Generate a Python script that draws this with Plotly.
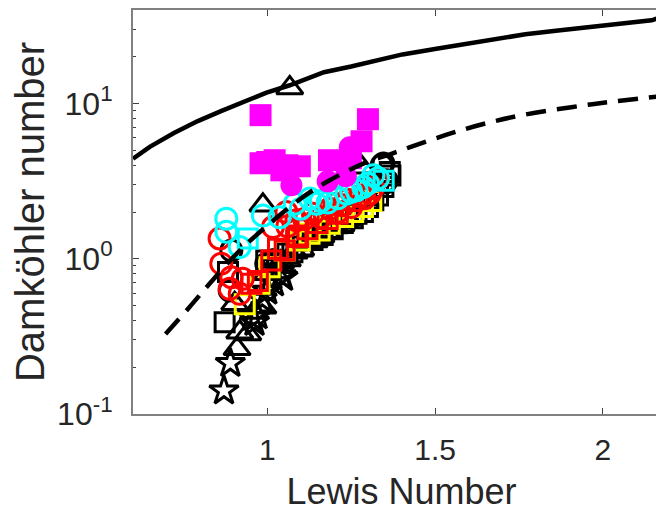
import plotly.graph_objects as go

# ---- model curves ----
solid_x = [0.600, 0.650, 0.722, 0.793, 0.864, 0.925, 0.996, 1.067, 1.169, 1.250, 1.331, 1.403,
           1.504, 1.606, 1.708, 1.769, 1.860, 1.962, 2.043, 2.145, 2.200]
solid_y = [4.41, 5.26, 6.45, 7.70, 8.96, 10.2, 11.7, 13.1, 15.9, 17.3, 19.1, 20.7,
           22.5, 24.4, 26.3, 27.9, 29.4, 31.0, 32.6, 34.3, 37.5]

dashed_x = [0.697, 0.768, 0.828, 0.918, 1.007, 1.107, 1.186, 1.286, 1.372, 1.474, 1.565,
            1.657, 1.758, 1.911, 2.033, 2.200]
dashed_y = [0.328, 0.487, 0.69, 1.13, 1.68, 2.50, 3.20, 4.10, 4.76, 5.69, 6.60,
            7.50, 8.40, 9.50, 10.3, 11.3]

# ---- measurements ----
star_x = [0.871, 0.890, 0.962, 0.971, 1.042, 1.047, 0.955, 1.020, 1.000, 0.985]
star_y = [0.141, 0.212, 0.39, 0.43, 0.78, 0.76, 0.42, 0.70, 0.62, 0.55]

tri_x = [1.067, 0.987, 0.910, 0.918, 0.942, 0.987, 0.903, 0.960, 1.000, 1.040, 1.080, 1.120,
         1.160, 1.200, 1.240, 1.281, 1.300, 1.020, 1.060, 1.100, 1.140, 1.180, 1.220]
tri_y = [12.6, 2.21, 0.263, 0.336, 0.328, 0.487, 0.513, 0.45, 0.80, 0.95, 1.10, 1.25,
         1.40, 1.60, 1.80, 3.88, 2.30, 0.82, 0.98, 1.15, 1.30, 1.48, 1.65]

bsq_x = [0.873, 0.883, 0.997, 1.030, 1.060, 1.087, 1.120, 1.147, 1.180, 1.206, 1.240,
         1.266, 1.300, 1.316, 1.346, 1.367, 1.365, 1.010, 1.045, 1.075, 1.105, 1.135,
         1.165, 1.195, 1.225, 1.255, 1.285, 1.330]
bsq_y = [0.39, 0.82, 0.975, 0.97, 1.08, 1.31, 1.35, 1.52, 1.58, 1.72, 1.85,
         1.95, 2.15, 2.38, 2.90, 3.43, 3.62, 0.86, 0.95, 1.10, 1.20, 1.32,
         1.42, 1.55, 1.70, 1.82, 2.00, 2.55]

bci_x = [0.997, 0.888, 0.893, 1.020, 1.346, 1.356, 1.352, 1.341, 1.300]
bci_y = [0.93, 0.624, 1.13, 0.98, 4.1, 3.2, 3.1, 4.0, 2.9]

ysq_x = [0.933, 0.977, 1.007, 1.052, 1.097, 1.126, 1.156, 1.186, 1.226, 1.256, 1.285, 1.310]
ysq_y = [0.51, 0.69, 0.88, 1.13, 1.31, 1.45, 1.52, 1.68, 1.86, 2.0, 2.15, 2.35]

rsq_x = [0.953, 0.972, 1.012, 1.032, 1.052, 1.087, 1.092, 1.120, 1.150, 1.180, 1.210]
rsq_y = [0.69, 0.72, 0.975, 1.16, 1.13, 1.41, 1.38, 1.55, 1.70, 1.80, 1.95]

rci_x = [0.858, 0.863, 0.893, 0.927, 0.888, 0.918, 1.017, 1.057, 1.087, 1.136, 1.186,
         1.226, 1.266, 1.306, 1.326, 1.160, 1.210, 1.250, 1.290, 1.110, 1.060, 1.200,
         1.240, 1.280, 1.315]
rci_y = [1.35, 0.93, 0.76, 0.743, 0.64, 0.594, 1.60, 2.0, 1.77, 1.95, 2.10,
         2.21, 2.38, 2.63, 3.20, 1.85, 2.0, 2.15, 2.45, 1.80, 1.62, 2.25,
         2.40, 2.55, 2.85]

cci_x = [0.878, 0.878, 0.918, 0.987, 1.037, 1.082, 1.127, 1.147, 1.236, 1.266, 1.286,
         1.316, 1.180, 1.210, 1.330, 1.100, 1.160, 1.250, 1.300]
cci_y = [1.81, 1.49, 1.19, 1.90, 1.85, 2.26, 2.44, 2.26, 2.63, 2.76, 2.90,
         3.45, 2.30, 2.45, 3.30, 2.10, 2.35, 2.70, 3.05]

csq_x = [0.942, 1.347]
csq_y = [1.35, 3.18]

msq_x = [0.980, 0.980, 1.022, 1.042, 1.097, 1.184, 1.249, 1.281, 1.300, 1.000, 1.060]
msq_y = [8.41, 4.12, 4.31, 3.71, 3.94, 4.31, 4.44, 5.71, 7.92, 4.20, 4.00]

mci_x = [1.072, 1.180, 1.234, 1.246]
mci_y = [2.97, 3.15, 3.40, 5.22]

y_tickvals = [0.1, 1, 10]
y_ticktext = ["10<sup>-1</sup>", "10<sup>0</sup>", "10<sup>1</sup>"]
x_tickvals = [1, 1.5, 2]
x_ticktext = ["1", "1.5", "2"]

fig = go.Figure()


def add_markers(x, y, symbol, color, size, filled=False):
    if filled:
        marker = dict(symbol=symbol, color=color, size=size, line=dict(width=0))
    else:
        marker = dict(symbol=symbol + "-open", color=color, size=size,
                      line=dict(width=3, color=color))
    fig.add_trace(go.Scatter(x=x, y=y, mode="markers", marker=marker,
                             showlegend=False, hoverinfo="skip"))


add_markers(star_x, star_y, "star", "black", 22)
add_markers(tri_x, tri_y, "triangle-up", "black", 23)
add_markers(bsq_x, bsq_y, "square", "black", 19)
add_markers(bci_x, bci_y, "circle", "black", 21)
add_markers(ysq_x, ysq_y, "square", "#FFFF00", 19)
add_markers(rsq_x, rsq_y, "square", "#FF0000", 19)
add_markers(rci_x, rci_y, "circle", "#FF0000", 21)
add_markers(cci_x, cci_y, "circle", "#00FFFF", 21)
add_markers(csq_x, csq_y, "square", "#00FFFF", 19)
add_markers(msq_x, msq_y, "square", "#FF00FF", 22, filled=True)
add_markers(mci_x, mci_y, "circle", "#FF00FF", 22, filled=True)

fig.add_trace(go.Scatter(x=solid_x, y=solid_y, mode="lines",
                         line=dict(color="black", width=4.5),
                         showlegend=False, hoverinfo="skip"))
fig.add_trace(go.Scatter(x=dashed_x, y=dashed_y, mode="lines",
                         line=dict(color="black", width=4.5, dash="20px,11px", shape="spline"),
                         showlegend=False, hoverinfo="skip"))

font_family = "Liberation Sans"
txt = "#262626"
fig.update_layout(
    width=664, height=519,
    margin=dict(l=125, r=2, t=2, b=113),
    plot_bgcolor="white", paper_bgcolor="white",
    font=dict(family=font_family, color=txt),
    xaxis=dict(
        range=[0.6, 2.2], tickvals=x_tickvals, ticktext=x_ticktext,
        ticks="inside", ticklen=6, tickwidth=1, tickcolor="#404040",
        showline=True, linecolor="#808080", linewidth=2, mirror="ticks",
        showgrid=False, zeroline=False, automargin=False,
        tickfont=dict(size=30, family=font_family, color=txt),
        ticklabelstandoff=8,
        title=dict(text="Lewis Number", font=dict(size=36, family=font_family, color=txt),
                   standoff=14),
    ),
    yaxis=dict(
        type="log", range=[-1, 1.602], tickvals=y_tickvals, ticktext=y_ticktext,
        ticks="inside", ticklen=6, tickwidth=1, tickcolor="#404040",
        minor=dict(tickvals=[0.2, 0.3, 0.4, 0.5, 0.6, 0.7, 0.8, 0.9,
                             2, 3, 4, 5, 6, 7, 8, 9, 20, 30, 40],
                   ticks="inside", ticklen=3, tickcolor="#404040"),
        showline=True, linecolor="#808080", linewidth=2, mirror="ticks",
        showgrid=False, zeroline=False, automargin=False,
        tickfont=dict(size=32, family=font_family, color=txt),
        ticklabelstandoff=12,
        title=dict(text="Damköhler number", font=dict(size=40, family=font_family, color=txt),
                   standoff=7),
    ),
)

fig.write_html("out.html")
